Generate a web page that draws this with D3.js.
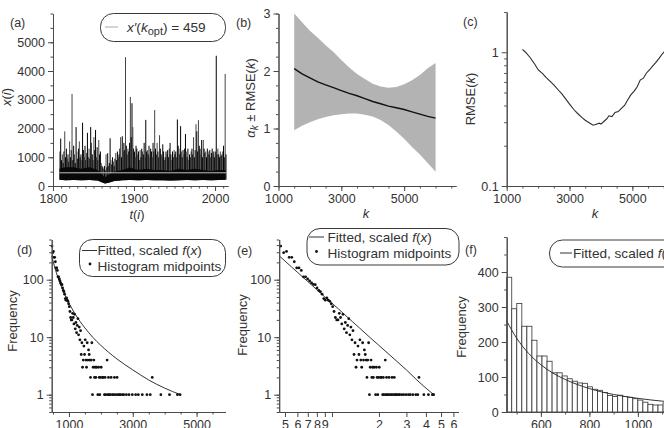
<!DOCTYPE html>
<html>
<head>
<meta charset="utf-8">
<script src="https://cdn.jsdelivr.net/npm/d3@7"></script>
<style>
body { margin: 0; background: #fff; }
svg { display: block; }
</style>
</head>
<body>
<svg id="chart" width="664" height="428"></svg>
<script>
// ---------------- data ----------------

// (a) flow series: one peak per year from 1808, plus the dense base band
const flowStartYear = 1808;
const flowPeaks = [
    1200, 1650, 900, 1100, 800, 1200, 1900, 1000, 1300, 950,
    1100, 850, 1550, 1000, 1250, 3200, 900, 1400, 1100, 800,
    2050, 1200, 950, 1300, 1550, 1000, 1100, 900, 2200, 1250,
    1000, 1400, 900, 1150, 1850, 1000, 1300, 950, 2050, 1500,
    1100, 900, 1700, 1250, 1950, 1000, 1350, 900, 1600, 1100,
    1200, 800, 700, 650, 600, 700, 550, 1100, 650, 1140,
    700, 800, 1660, 900, 750, 1000, 850, 700, 950, 1150,
    900, 1200, 1000, 1100, 1300, 1700, 1000, 1730, 1200, 1500,
    1250, 4480, 1400, 1100, 1300, 1200, 1500, 3100, 1700, 2880,
    2050, 1300, 1200, 1000, 1400, 1300, 1100, 1200, 900, 1250,
    1000, 1300, 1200, 1100, 1500, 1000, 2300, 1200, 1250, 1100,
    1400, 1000, 1300, 1200, 1000, 1500, 1200, 2640, 1300, 1100,
    1500, 1200, 1000, 1766, 1300, 1100, 1000, 1450, 1200, 900,
    1000, 1200, 1100, 1250, 1000, 1300, 1500, 1100, 900, 1200,
    1000, 1250, 1100, 1200, 1000, 2313, 1400, 1300, 1100, 2080,
    1200, 1000, 1250, 1100, 1300, 1810, 1200, 1000, 1300, 900,
    1100, 1000, 1200, 1300, 1100, 1700, 1000, 1250, 2150, 1900,
    1200, 2290, 1400, 1300, 1100, 1600, 1000, 1600, 1300, 1150,
    1200, 1000, 1300, 1200, 1100, 1250, 1000, 1150, 1300, 1100,
    1200, 1000, 1200, 4530, 1100, 1300, 1100, 1000, 1200, 1050,
    1100, 1200, 1400, 1000, 3900, 1100
];
const bandYears = [1808, 1815, 1825, 1835, 1845, 1855, 1860, 1864, 1868, 1875, 1885, 1895,
                   1905, 1915, 1925, 1935, 1945, 1955, 1965, 1975, 1985, 1995, 2005, 2013];
const bandLow  = [220, 200, 210, 200, 210, 190, 130, 90, 110, 170, 200, 210,
                  200, 210, 200, 200, 190, 200, 210, 200, 210, 200, 210, 220];
const bandHigh = [600, 650, 650, 600, 650, 560, 420, 300, 380, 500, 560, 640,
                  560, 600, 560, 560, 520, 600, 560, 600, 560, 520, 560, 560];
const threshold = 459;

// (b) alpha_k with +/- RMSE band
const kValues    = [1500, 1750, 2000, 2250, 2500, 2750, 3000, 3250, 3500, 3750, 4000, 4250, 4500, 4750, 5000, 5250, 5500, 5750, 6000];
const alphaK     = [2.04, 1.95, 1.88, 1.81, 1.76, 1.71, 1.66, 1.61, 1.57, 1.52, 1.47, 1.43, 1.39, 1.36, 1.33, 1.29, 1.25, 1.21, 1.18];
const alphaUpper = [3.00, 2.85, 2.70, 2.58, 2.45, 2.33, 2.19, 2.06, 1.95, 1.86, 1.78, 1.73, 1.71, 1.72, 1.77, 1.84, 1.93, 2.05, 2.14];
const alphaLower = [0.97, 1.05, 1.11, 1.16, 1.20, 1.23, 1.25, 1.26, 1.26, 1.24, 1.21, 1.15, 1.06, 0.95, 0.82, 0.68, 0.55, 0.40, 0.25];

// (c) RMSE(k)
const rmseK = [1500, 1600, 1750, 1900, 2000, 2150, 2250, 2400, 2500, 2650, 2750, 2900, 3000, 3150, 3250,
               3400, 3500, 3650, 3750, 3850, 3950, 4000, 4100, 4200, 4250, 4350, 4450, 4550, 4650, 4750,
               4850, 4950, 5050, 5150, 5250, 5350, 5450, 5550, 5650, 5750, 5850, 5950, 6050, 6150];
const rmseValues = [1.05, 1.00, 0.91, 0.81, 0.74, 0.69, 0.65, 0.60, 0.57, 0.52, 0.49, 0.44, 0.41, 0.37, 0.35,
                    0.325, 0.31, 0.295, 0.285, 0.29, 0.295, 0.29, 0.305, 0.32, 0.335, 0.33, 0.355, 0.36, 0.38, 0.40,
                    0.44, 0.48, 0.51, 0.55, 0.62, 0.64, 0.70, 0.74, 0.79, 0.84, 0.90, 0.97, 1.03, 1.10];

// (d)(e)(f) histogram of exceedances above the threshold
const binStart = 459;
const binWidth = 20.8;
const binCounts = [
    385, 295, 310, 245, 245, 205, 160, 160, 145, 112,
    112, 103, 95, 88, 83, 82, 72, 65, 62, 56,
    47, 44, 48, 44, 42, 38, 34, 28, 22, 20,
    20, 26, 22, 17, 25, 14, 18, 12, 16, 21,
    11, 15, 9, 13, 5, 8, 3, 4, 7, 5,
    9, 4, 3, 8, 4, 6, 5, 4, 2, 4,
    8, 1, 3, 4, 2, 3, 2, 3, 0, 1,
    3, 2, 1, 2, 3, 0, 2, 2, 0, 1,
    2, 1, 0, 4, 1, 2, 1, 0, 1, 2,
    0, 1, 0, 1, 2, 0, 1, 0, 2, 1,
    0, 1, 0, 1, 0, 0, 1, 0, 1, 0,
    0, 0, 1, 0, 0, 0, 1, 0, 0, 0,
    0, 1, 0, 0, 0, 0, 1, 0, 0, 0,
    1, 0, 0, 0, 0, 0, 1, 0, 0, 0,
    0, 0, 0, 1, 0, 0, 0, 0, 1, 0,
    0, 2, 0, 0, 0, 0, 0, 0, 0, 0,
    0, 0, 0, 0, 1, 0, 0, 0, 0, 0,
    0, 0, 0, 0, 0, 0, 0, 1, 0, 0,
    0, 0, 0, 0, 0, 0, 0, 0, 0, 1,
    0, 0, 0, 1, 0
];

// fitted, scaled f(x)
const fitX = [459, 500, 550, 600, 650, 700, 800, 900, 1000, 1100, 1200, 1350, 1500, 1750, 2000, 2500, 3000, 3500, 4000, 4500];
const fitY = [260, 211, 167, 135, 111, 93, 67, 50, 39, 31, 25, 18.7, 14.5, 9.9, 7.2, 4.2, 2.7, 1.8, 1.3, 1.0];

// tick labels
const aXTicks = [1800, 1900, 2000];
const aYTicks = [0, 1000, 2000, 3000, 4000, 5000];
const bYTicks = [0, 1, 2, 3];
const kTicks = [1000, 3000, 5000];
const cYTicks = [0.1, 1];
const freqLogTicks = [1, 10, 100];
const dXTicks = [1000, 3000, 5000];
const eXTicks = [500, 600, 700, 800, 900, 1000, 2000, 3000, 4000, 5000, 6000];
const eXLabels = ['5', '6', '7', '8', '9', '', '2', '3', '4', '5', '6'];
const fXTicks = [600, 800, 1000];
const fYTicks = [0, 100, 200, 300, 400];

// ---------------- drawing ----------------
const font = '"Liberation Sans", Arial, Helvetica, sans-serif';
const ink = '#333';
const axisInk = '#4a4a4a';
const legendSize = 13.6;
const topAxisY = 186;
const botAxisY = 412;

const svg = d3.select('#chart')
    .attr('font-family', font)
    .attr('fill', ink);

function styleAxis(g) {
    g.attr('color', axisInk)
        .attr('font-family', font)
        .attr('font-size', 12.5);
    g.selectAll('text').attr('fill', ink);
}

function xAxis(scale, y, majors, minors, fmt) {
    svg.append('g')
        .attr('transform', `translate(0,${y})`)
        .call(d3.axisBottom(scale).tickValues(minors).tickSize(2.5).tickSizeOuter(0).tickFormat(''))
        .call(styleAxis);
    svg.append('g')
        .attr('transform', `translate(0,${y})`)
        .call(d3.axisBottom(scale).tickValues(majors).tickSize(5).tickPadding(3).tickSizeOuter(0).tickFormat(fmt))
        .call(styleAxis);
}

function yAxis(scale, x, majors, minors, fmt) {
    svg.append('g')
        .attr('transform', `translate(${x},0)`)
        .call(d3.axisLeft(scale).tickValues(minors).tickSize(2.5).tickSizeOuter(0).tickFormat(''))
        .call(styleAxis);
    svg.append('g')
        .attr('transform', `translate(${x},0)`)
        .call(d3.axisLeft(scale).tickValues(majors).tickSize(5).tickPadding(3).tickSizeOuter(0).tickFormat(fmt))
        .call(styleAxis);
}

function panelLabel(text, x, y) {
    svg.append('text').attr('x', x).attr('y', y)
        .attr('font-size', 12.5).text(text);
}

// rotated y title built from [text, italic, dy, size] pieces
function yTitle(parts, x, y) {
    const t = svg.append('text')
        .attr('transform', `translate(${x},${y}) rotate(-90)`)
        .attr('text-anchor', 'middle')
        .attr('font-size', 13);
    parts.forEach(p => t.append('tspan')
        .attr('font-style', p[1] ? 'italic' : 'normal')
        .attr('dy', p[2] || 0)
        .attr('font-size', p[3] || null)
        .text(p[0]));
}

function xTitle(parts, x, y) {
    const t = svg.append('text').attr('x', x).attr('y', y)
        .attr('text-anchor', 'middle').attr('font-size', 13);
    parts.forEach(p => t.append('tspan')
        .attr('font-style', p[1] ? 'italic' : 'normal')
        .text(p[0]));
}

function legendBox(x, y, w, h) {
    svg.append('rect')
        .attr('x', x).attr('y', y).attr('width', w).attr('height', h)
        .attr('rx', 13).attr('ry', 13)
        .attr('fill', '#fff').attr('stroke', '#3a3a3a').attr('stroke-width', 1);
}

function fittedText(x, y) {
    svg.append('text').attr('x', x).attr('y', y).attr('font-size', legendSize)
        .call(t => {
            t.append('tspan').text('Fitted, scaled ');
            t.append('tspan').attr('font-style', 'italic').text('f');
            t.append('tspan').text('(');
            t.append('tspan').attr('font-style', 'italic').text('x');
            t.append('tspan').text(')');
        });
}

function minorLogTicks(lo, hi) {
    const out = [];
    for (let p = lo; p < hi; p *= 10) {
        for (let m = 1; m < 10; m++) out.push(p * m);
    }
    return out;
}

// ---- (a) time series ----
const xA = d3.scaleLinear().domain([1800, 2016]).range([53, 228]);
const yA = d3.scaleLinear().domain([0, 6000]).range([topAxisY, 13.5]);
const bandLowAt = d3.scaleLinear().domain(bandYears).range(bandLow);

svg.append('g').selectAll('line')
    .data(flowPeaks)
    .join('line')
    .attr('x1', (d, i) => xA(flowStartYear + i + 0.5))
    .attr('x2', (d, i) => xA(flowStartYear + i + 0.5))
    .attr('y1', (d, i) => yA(bandLowAt(flowStartYear + i)))
    .attr('y2', d => yA(d))
    .attr('stroke', (d, i) => i % 3 ? '#000' : '#444')
    .attr('stroke-width', 1);

svg.append('path')
    .datum(bandYears)
    .attr('fill', '#080808')
    .attr('d', d3.area()
        .x(d => xA(d))
        .y0((d, i) => yA(bandLow[i]))
        .y1((d, i) => yA(bandHigh[i])));

svg.append('line')
    .attr('x1', xA(flowStartYear)).attr('x2', xA(flowStartYear + flowPeaks.length))
    .attr('y1', yA(threshold)).attr('y2', yA(threshold))
    .attr('stroke', '#c4c4c4').attr('stroke-width', 1);

xAxis(xA, topAxisY, aXTicks, d3.range(1800, 2016, 10), d => d);
yAxis(yA, 53, aYTicks, d3.range(0, 6001, 500), d => d);
panelLabel('(a)', 10, 27);
yTitle([['x', true], ['('], ['i', true], [')']], 11, 97);
xTitle([['t', true], ['('], ['i', true], [')']], 137, 218.5);

legendBox(100.5, 13.5, 125, 28);
svg.append('line').attr('x1', 105).attr('x2', 118).attr('y1', 27).attr('y2', 27)
    .attr('stroke', '#aaa').attr('stroke-width', 1);
{
    const t = svg.append('text').attr('x', 127).attr('y', 32).attr('font-size', legendSize);
    t.append('tspan').attr('font-style', 'italic').text('x′');
    t.append('tspan').text('(');
    t.append('tspan').attr('font-style', 'italic').text('k');
    t.append('tspan').attr('dy', 3).attr('font-size', 11).text('opt');
    t.append('tspan').attr('dy', -3).text(`) = ${threshold}`);
}

// ---- (b) alpha_k +/- RMSE ----
const xB = d3.scaleLinear().domain([1000, 6650]).range([278.5, 456]);
const yB = d3.scaleLinear().domain([0, 3]).range([topAxisY, 13.5]);

svg.append('path')
    .datum(kValues)
    .attr('fill', '#b3b3b3')
    .attr('d', d3.area()
        .x(d => xB(d))
        .y0((d, i) => yB(alphaLower[i]))
        .y1((d, i) => yB(alphaUpper[i])));

svg.append('path')
    .datum(kValues)
    .attr('fill', 'none')
    .attr('stroke', '#111')
    .attr('stroke-width', 1.4)
    .attr('d', d3.line()
        .x(d => xB(d))
        .y((d, i) => yB(alphaK[i])));

xAxis(xB, topAxisY, kTicks, d3.range(1000, 6501, 500), d => d);
yAxis(yB, 278.5, bYTicks, d3.range(0, 3.01, 0.25), d => d);
panelLabel('(b)', 236, 27);
yTitle([['α', true], ['k', true, 3, 10], [' ± RMSE(', false, -3], ['k', true], [')']], 255, 98);
xTitle([['k', true]], 366, 218);

// ---- (c) RMSE(k) ----
const xC = d3.scaleLinear().domain([1000, 6650]).range([506.7, 684.2]);
const yC = d3.scaleLog().domain([0.1, 2]).range([topAxisY, 12]);

svg.append('path')
    .datum(rmseK)
    .attr('fill', 'none')
    .attr('stroke', '#2b2b2b')
    .attr('stroke-width', 1.1)
    .attr('d', d3.line()
        .x(d => xC(d))
        .y((d, i) => yC(rmseValues[i])));

xAxis(xC, topAxisY, kTicks, d3.range(1000, 6501, 500), d => d);
yAxis(yC, 506.7, cYTicks, minorLogTicks(0.1, 1).concat([2]), d => d);
panelLabel('(c)', 463, 26);
yTitle([['RMSE('], ['k', true], [')']], 474.5, 99);
xTitle([['k', true]], 595, 218);

// histogram midpoints shared by (d) and (e)
const mids = binCounts
    .map((c, i) => ({ x: binStart + binWidth * (i + 0.5), c: c }))
    .filter(d => d.c > 0);

// ---- (d) log-linear ----
const xD = d3.scaleLinear().domain([459, 5900]).range([51.7, 225.3]);
const yD = d3.scaleLog().domain([0.5, 500]).range([botAxisY, 239.5]);

svg.append('path')
    .datum(fitX)
    .attr('fill', 'none').attr('stroke', '#333').attr('stroke-width', 1)
    .attr('d', d3.line().curve(d3.curveMonotoneX)
        .x(d => xD(d))
        .y((d, i) => yD(fitY[i])));

svg.append('g').selectAll('circle')
    .data(mids)
    .join('circle')
    .attr('cx', d => xD(d.x))
    .attr('cy', d => yD(d.c))
    .attr('r', 1.4)
    .attr('fill', '#111');

xAxis(xD, botAxisY, dXTicks, d3.range(500, 5901, 500), d => d);
yAxis(yD, 51.7, freqLogTicks, minorLogTicks(0.1, 1000).filter(v => v >= 0.5 && v <= 500), d => d);
panelLabel('(d)', 17, 254);
yTitle([['Frequency']], 17, 321);

legendBox(79.5, 239.5, 146, 37);
svg.append('line').attr('x1', 82).attr('x2', 97).attr('y1', 250.5).attr('y2', 250.5)
    .attr('stroke', '#333').attr('stroke-width', 1);
fittedText(97.5, 255);
svg.append('circle').attr('cx', 90).attr('cy', 264).attr('r', 1.4).attr('fill', '#111');
svg.append('text').attr('x', 97.5).attr('y', 270.5).attr('font-size', legendSize).text('Histogram midpoints');

// ---- (e) log-log ----
const xE = d3.scaleLog().domain([459, 6460]).range([279.2, 458.4]);
const yE = d3.scaleLog().domain([0.5, 500]).range([botAxisY, 239.5]);

svg.append('path')
    .datum(fitX)
    .attr('fill', 'none').attr('stroke', '#333').attr('stroke-width', 1)
    .attr('d', d3.line()
        .x(d => xE(d))
        .y((d, i) => yE(fitY[i])));

svg.append('g').selectAll('circle')
    .data(mids)
    .join('circle')
    .attr('cx', d => xE(d.x))
    .attr('cy', d => yE(d.c))
    .attr('r', 1.4)
    .attr('fill', '#111');

xAxis(xE, botAxisY, eXTicks, [], (d, i) => eXLabels[i]);
yAxis(yE, 279.2, freqLogTicks, minorLogTicks(0.1, 1000).filter(v => v >= 0.5 && v <= 500), d => d);
panelLabel('(e)', 237, 255);
yTitle([['Frequency']], 247, 325);

legendBox(307, 228.5, 152, 36.5);
svg.append('line').attr('x1', 309).attr('x2', 324).attr('y1', 237).attr('y2', 237)
    .attr('stroke', '#333').attr('stroke-width', 1);
fittedText(327.5, 241.5);
svg.append('circle').attr('cx', 316.5).attr('cy', 251.5).attr('r', 1.4).attr('fill', '#111');
svg.append('text').attr('x', 327.5).attr('y', 257.5).attr('font-size', legendSize).text('Histogram midpoints');

// ---- (f) histogram ----
const xF = d3.scaleLinear().domain([459, 1250]).range([506.7, 698.5]);
const yF = d3.scaleLinear().domain([0, 500]).range([botAxisY, 237]);

svg.append('g').selectAll('rect')
    .data(binCounts.map((c, i) => ({ x0: binStart + binWidth * i, c: c }))
        .filter(d => d.x0 < 1250))
    .join('rect')
    .attr('x', d => xF(d.x0))
    .attr('width', xF(binStart + binWidth) - xF(binStart))
    .attr('y', d => yF(d.c))
    .attr('height', d => yF(0) - yF(d.c))
    .attr('fill', '#fff')
    .attr('stroke', '#333')
    .attr('stroke-width', 0.8);

svg.append('path')
    .datum(fitX.filter(d => d <= 1350))
    .attr('fill', 'none').attr('stroke', '#333').attr('stroke-width', 1)
    .attr('d', d3.line().curve(d3.curveMonotoneX)
        .x(d => xF(d))
        .y((d, i) => yF(fitY[i])));

xAxis(xF, botAxisY, fXTicks, d3.range(500, 1251, 100), d => d);
yAxis(yF, 506.7, fYTicks, d3.range(0, 501, 50), d => d);
panelLabel('(f)', 465, 254);
yTitle([['Frequency']], 465.5, 327);

legendBox(549.5, 240, 160, 27);
svg.append('line').attr('x1', 560).attr('x2', 572).attr('y1', 253).attr('y2', 253)
    .attr('stroke', '#333').attr('stroke-width', 1);
fittedText(573, 257.5);
</script>
</body>
</html>
